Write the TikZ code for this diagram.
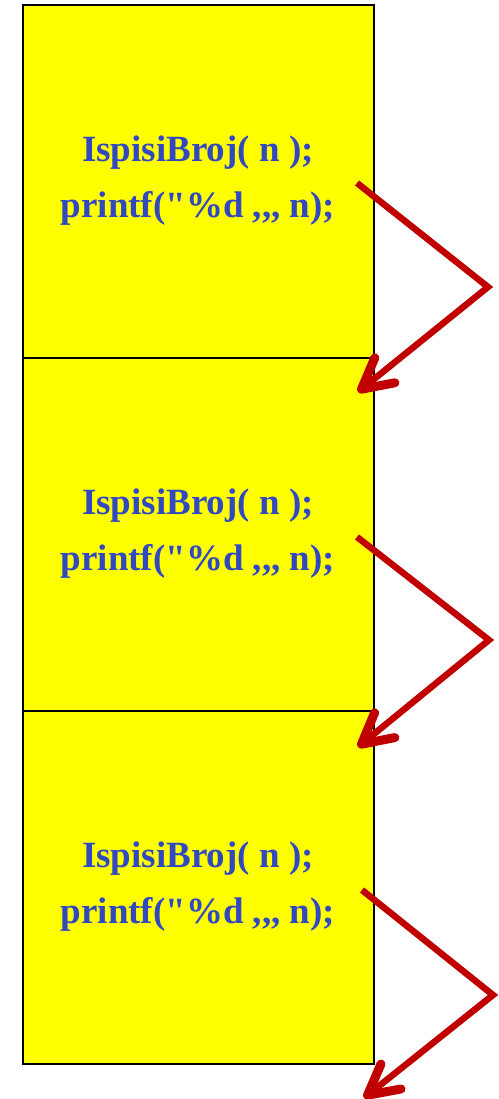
\documentclass[tikz,border=0pt]{standalone}
\usepackage{fontspec}
\setmainfont{Liberation Serif}[Ligatures=TeXOff]
\usetikzlibrary{arrows.meta}
\definecolor{boxyellow}{RGB}{255,255,0}
\definecolor{codeblue}{RGB}{48,72,192}
\definecolor{arrowred}{RGB}{192,0,0}
\tikzset{
  frame/.style={draw=black, line width=1.3pt, fill=boxyellow, minimum width=351pt, minimum height=353pt, inner sep=0pt},
  code/.style={text=codeblue, font=\bfseries\fontsize{37}{56}\selectfont, align=center},
  callarrow/.style={draw=arrowred, line width=6.5pt, line join=miter, -{Straight Barb[length=30pt,width=32pt,line width=9pt,round]}}
}
\newcommand{\codetext}{IspisiBroj( n );\\printf("\%d ,,, n);}
\begin{document}
\begin{tikzpicture}[x=1pt,y=-1pt]
\useasboundingbox (0,0) rectangle (498,1099);
\node[frame] (b1) at (198.5,181.5) {};
\node[frame] (b2) at (198.5,534.5) {};
\node[frame] (b3) at (198.5,887.5) {};
\node[code] (t1) at (198,181) {\codetext};
\node[code] (t2) at (198,534) {\codetext};
\node[code] (t3) at (198,887) {\codetext};
\coordinate (s1) at (357,183);
\coordinate (v1) at (488,287);
\coordinate (e1) at (358,392);
\coordinate (s2) at (357,537);
\coordinate (v2) at (489,640);
\coordinate (e2) at (358,747);
\coordinate (s3) at (362,890);
\coordinate (v3) at (493,995);
\coordinate (e3) at (364,1098);
\draw[callarrow] (s1) -- (v1) -- (e1);
\draw[callarrow] (s2) -- (v2) -- (e2);
\draw[callarrow] (s3) -- (v3) -- (e3);
\end{tikzpicture}
\end{document}
